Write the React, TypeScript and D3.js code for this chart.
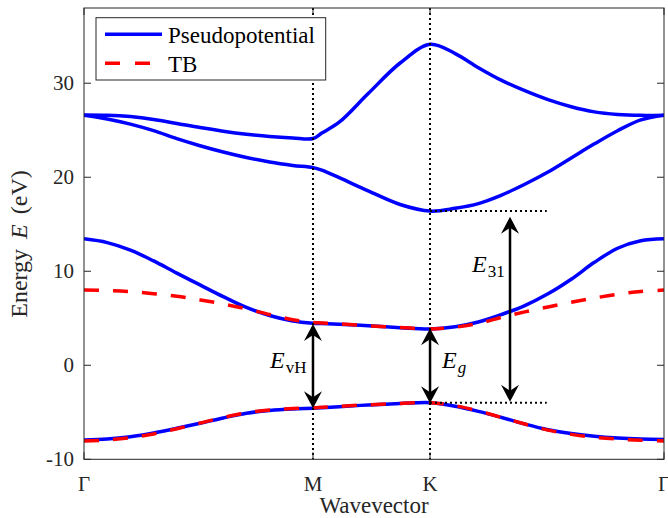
import React, { useEffect, useRef } from "react";
import * as d3 from "d3";

// path along the Brillouin zone, as a fraction of the plotted length
const kPath = [
  0, 0.04, 0.08, 0.12, 0.16, 0.2, 0.24, 0.28, 0.32, 0.36, 0.395,
  0.41, 0.44, 0.49, 0.545, 0.597,
  0.64, 0.68, 0.72, 0.76, 0.8, 0.84, 0.88, 0.92, 0.96, 1,
];

// pseudopotential bands (eV)
const ppBand1 = [
  -7.95, -7.85, -7.6, -7.2, -6.7, -6.17, -5.6, -5.1, -4.8, -4.64, -4.57,
  -4.52, -4.4, -4.22, -4.07, -3.98,
  -4.35, -4.9, -5.55, -6.25, -6.85, -7.25, -7.55, -7.74, -7.85, -7.9,
];
const ppBand2 = [
  13.45, 13.05, 12.25, 11.1, 9.8, 8.55, 7.3, 6.15, 5.3, 4.72, 4.48,
  4.44, 4.36, 4.2, 4.0, 3.86,
  4.1, 4.6, 5.4, 6.35, 7.6, 9.15, 10.95, 12.45, 13.25, 13.45,
];
const ppBand3 = [
  26.6, 26.2, 25.65, 24.95, 24.1, 23.35, 22.68, 22.1, 21.62, 21.26, 21.02,
  20.75, 19.95, 18.55, 17.1, 16.4,
  16.7, 17.2, 18.1, 19.25, 20.55, 22.05, 23.55, 24.95, 26.1, 26.6,
];
const ppBand4 = [
  26.63, 26.6, 26.45, 26.15, 25.72, 25.28, 24.9, 24.58, 24.33, 24.18, 24.12,
  24.7, 25.85, 28.9, 32.15, 34.15,
  33.15, 31.65, 30.3, 29.2, 28.25, 27.5, 26.95, 26.68, 26.58, 26.6,
];

// tight-binding bands (eV)
const tbBand1 = [
  -8.05, -7.95, -7.7, -7.3, -6.75, -6.15, -5.55, -5.05, -4.75, -4.6, -4.52,
  -4.47, -4.37, -4.2, -4.06, -3.98,
  -4.3, -4.85, -5.55, -6.25, -6.9, -7.35, -7.65, -7.85, -7.98, -8.05,
];
const tbBand2 = [
  8.0, 7.95, 7.83, 7.62, 7.35, 6.95, 6.52, 6.0, 5.4, 4.85, 4.55,
  4.5, 4.4, 4.2, 4.02, 3.86,
  4.05, 4.45, 5.1, 5.68, 6.2, 6.7, 7.15, 7.55, 7.85, 8.0,
];

const symLabels = ["Γ", "M", "K", "Γ"];
const symK = [0, 0.3948, 0.5966, 1];
const yTicks = [-10, 0, 10, 20, 30];

// energy gaps marked with arrows
const gapNames = ["vH", "g", "31"];
const gapK = [0.3948, 0.5966, 0.7345];
const gapTop = [4.4, 3.94, 15.8];
const gapBottom = [-4.57, -4.04, -3.87];
// dotted guides leaving K
const guideLevels = [16.4, -3.98];
const guideEndK = 0.7978;

const FONT = "'Liberation Serif', 'Times New Roman', serif";
const AXIS = "#262626";

const BandChart: React.FC = () => {
  const svgRef = useRef<SVGSVGElement>(null);

  useEffect(() => {
    if (!svgRef.current) return;
    const width = 668;
    const height = 518;
    const margin = { top: 8, right: 4, bottom: 58.7, left: 84 };

    const svg = d3.select(svgRef.current);
    svg.selectAll("*").remove();

    const x = d3
      .scaleLinear()
      .domain([0, 1])
      .range([margin.left, width - margin.right]);
    const y = d3
      .scaleLinear()
      .domain([-10, 38])
      .range([height - margin.bottom, margin.top]);

    const [x0, x1] = x.range();
    const [yb, yt] = y.range();

    svg
      .append("defs")
      .append("clipPath")
      .attr("id", "plot-area")
      .append("rect")
      .attr("x", x0)
      .attr("y", yt)
      .attr("width", x1 - x0)
      .attr("height", yb - yt);

    const line = d3
      .line<number>()
      .x((_, i) => x(kPath[i]))
      .y((d) => y(d))
      .curve(d3.curveCatmullRom.alpha(0.5));

    const plot = svg.append("g").attr("clip-path", "url(#plot-area)");

    [ppBand1, ppBand2, ppBand3, ppBand4].forEach((band) => {
      plot
        .append("path")
        .attr("d", line(band))
        .attr("fill", "none")
        .attr("stroke", "#0000ff")
        .attr("stroke-width", 3.5);
    });
    [tbBand1, tbBand2].forEach((band) => {
      plot
        .append("path")
        .attr("d", line(band))
        .attr("fill", "none")
        .attr("stroke", "#ff0000")
        .attr("stroke-width", 3.5)
        .attr("stroke-dasharray", "15 14");
    });

    // dotted vertical lines at M and K
    [symK[1], symK[2]].forEach((k) => {
      plot
        .append("line")
        .attr("x1", x(k))
        .attr("x2", x(k))
        .attr("y1", yt)
        .attr("y2", yb)
        .attr("stroke", "#000")
        .attr("stroke-width", 2)
        .attr("stroke-dasharray", "2 3");
    });
    guideLevels.forEach((e) => {
      plot
        .append("line")
        .attr("x1", x(symK[2]))
        .attr("x2", x(guideEndK))
        .attr("y1", y(e))
        .attr("y2", y(e))
        .attr("stroke", "#000")
        .attr("stroke-width", 2)
        .attr("stroke-dasharray", "2 3");
    });

    // double arrows
    const head = (tx: number, ty: number, dir: number) =>
      `M${tx},${ty} L${tx - 9},${ty + dir * 17} L${tx},${ty + dir * 11} L${tx + 9},${ty + dir * 17} Z`;

    gapK.forEach((k, i) => {
      const ax = x(k);
      const top = y(gapTop[i]);
      const bot = y(gapBottom[i]);
      svg
        .append("line")
        .attr("x1", ax)
        .attr("x2", ax)
        .attr("y1", top + 10)
        .attr("y2", bot - 10)
        .attr("stroke", "#000")
        .attr("stroke-width", 2.5);
      svg.append("path").attr("d", head(ax, top, 1)).attr("fill", "#000");
      svg.append("path").attr("d", head(ax, bot, -1)).attr("fill", "#000");
    });

    const labelPos = [
      { dx: -43, y: y(0) + 3 },
      { dx: 12, y: y(0) + 3 },
      { dx: -38, y: y(10) + 0.5 },
    ];
    gapNames.forEach((name, i) => {
      const t = svg
        .append("text")
        .attr("x", x(gapK[i]) + labelPos[i].dx)
        .attr("y", labelPos[i].y)
        .style("font-family", FONT)
        .style("fill", "#000");
      t.append("tspan")
        .text("E")
        .style("font-style", "italic")
        .style("font-size", "24px");
      t.append("tspan")
        .attr("dx", 1)
        .attr("dy", 5)
        .text(name)
        .style("font-style", name === "g" ? "italic" : "normal")
        .style("font-size", "17px");
    });

    // axes box
    svg
      .append("rect")
      .attr("x", x0)
      .attr("y", yt)
      .attr("width", x1 - x0)
      .attr("height", yb - yt)
      .attr("fill", "none")
      .attr("stroke", AXIS)
      .attr("stroke-width", 1);

    const ticks = svg.append("g").attr("stroke", AXIS).attr("stroke-width", 1);
    yTicks.forEach((v) => {
      ticks.append("line").attr("x1", x0).attr("x2", x0 + 7).attr("y1", y(v)).attr("y2", y(v));
      ticks.append("line").attr("x1", x1 - 7).attr("x2", x1).attr("y1", y(v)).attr("y2", y(v));
    });
    symK.forEach((k) => {
      ticks.append("line").attr("x1", x(k)).attr("x2", x(k)).attr("y1", yb).attr("y2", yb - 7);
      ticks.append("line").attr("x1", x(k)).attr("x2", x(k)).attr("y1", yt).attr("y2", yt + 7);
    });

    svg
      .append("g")
      .selectAll("text")
      .data(yTicks)
      .enter()
      .append("text")
      .attr("x", x0 - 10)
      .attr("y", (d) => y(d) + 7)
      .attr("text-anchor", "end")
      .text((d) => String(d))
      .style("font-family", FONT)
      .style("font-size", "21px")
      .style("fill", AXIS);

    svg
      .append("g")
      .selectAll("text")
      .data(symLabels)
      .enter()
      .append("text")
      .attr("x", (_, i) => x(symK[i]))
      .attr("y", yb + 32)
      .attr("text-anchor", "middle")
      .text((d) => d)
      .style("font-family", FONT)
      .style("font-size", "21px")
      .style("fill", AXIS);

    svg
      .append("text")
      .attr("x", (x0 + x1) / 2)
      .attr("y", 513)
      .attr("text-anchor", "middle")
      .text("Wavevector")
      .style("font-family", FONT)
      .style("font-size", "23px")
      .style("fill", AXIS);

    const yl = svg
      .append("text")
      .attr("transform", `translate(26.5,244) rotate(-90)`)
      .attr("text-anchor", "middle")
      .style("font-family", FONT)
      .style("font-size", "24px")
      .style("fill", AXIS);
    yl.append("tspan").text("Energy");
    yl.append("tspan").attr("dx", 10).text("E").style("font-style", "italic");
    yl.append("tspan").attr("dx", 10).text("(eV)");

    // legend
    const lg = svg.append("g");
    lg.append("rect")
      .attr("x", 96)
      .attr("y", 17.7)
      .attr("width", 229.7)
      .attr("height", 62.3)
      .attr("fill", "#fff")
      .attr("stroke", AXIS)
      .attr("stroke-width", 1);
    const entries = [
      { name: "Pseudopotential", color: "#0000ff", dash: null as string | null },
      { name: "TB", color: "#ff0000", dash: "15 15" },
    ];
    entries.forEach((e, i) => {
      const ly = 34.3 + i * 29;
      lg.append("line")
        .attr("x1", 105)
        .attr("x2", 162)
        .attr("y1", ly)
        .attr("y2", ly)
        .attr("stroke", e.color)
        .attr("stroke-width", 3.5)
        .attr("stroke-dasharray", e.dash);
      lg.append("text")
        .attr("x", 168)
        .attr("y", ly + 8.5)
        .text(e.name)
        .style("font-family", FONT)
        .style("font-size", "23px")
        .style("fill", "#000");
    });
  }, []);

  return (
    <svg
      ref={svgRef}
      width={668}
      height={518}
      style={{ position: "fixed", left: 0, top: 0, background: "#fff" }}
    ></svg>
  );
};

export default function App() {
  return <BandChart />;
}
